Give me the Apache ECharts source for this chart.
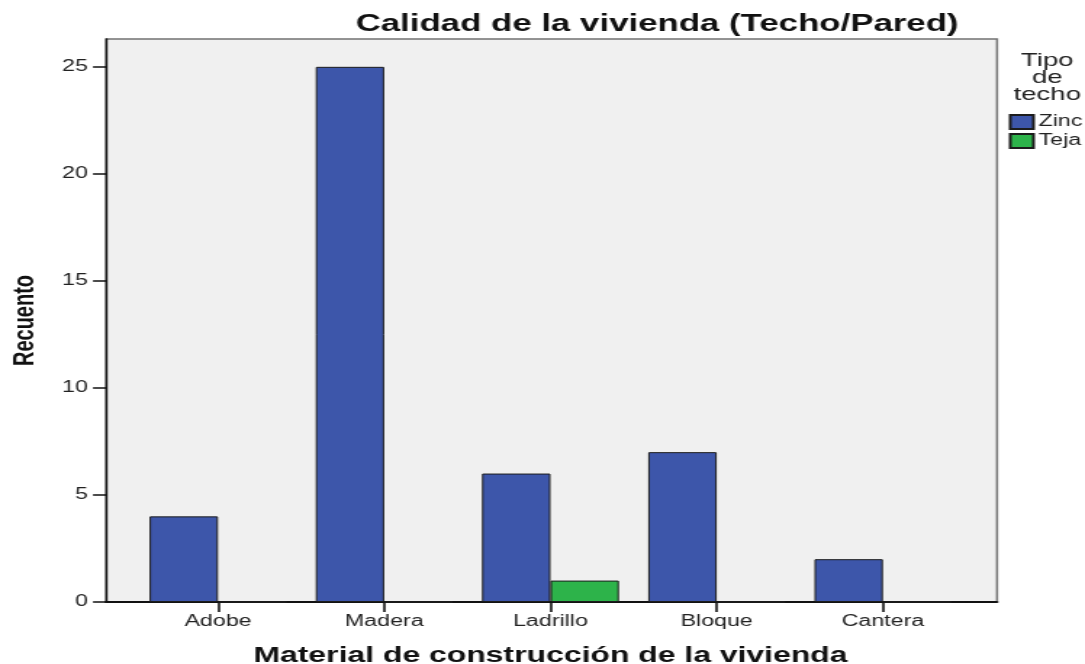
<!DOCTYPE html>
<html>
<head>
<meta charset="utf-8">
<script src="https://cdn.jsdelivr.net/npm/echarts@6/dist/echarts.min.js"></script>
<style>
  html, body { margin: 0; padding: 0; background: #fff; overflow: hidden; }
  /* the reference picture is stretched sideways, so draw narrow and stretch */
  #chart { width: 748px; height: 664px; transform: scaleX(1.4505); transform-origin: 0 0; }
</style>
</head>
<body>
<div id="chart"></div>
<script>
const categories = ['Adobe', 'Madera', 'Ladrillo', 'Bloque', 'Cantera'];
const zinc = [4, 25, 6, 7, 2];
const teja = [0, 0, 1, 0, 0];
const yTicks = [0, 5, 10, 15, 20, 25];
const yMax = 26.3;

const font = 'Liberation Sans, Arial, sans-serif';
const chart = echarts.init(document.getElementById('chart'));

const option = {
  animation: false,
  textStyle: { fontFamily: font },
  title: {
    text: 'Calidad de la vivienda (Techo/Pared)',
    left: 453,
    top: 12,
    textAlign: 'center',
    padding: 0,
    textStyle: { fontSize: 24, fontWeight: 'bold', color: '#111', fontFamily: font }
  },
  graphic: [{
    type: 'text',
    x: 722,
    y: 52,
    style: {
      text: 'Tipo\nde\ntecho',
      align: 'center',
      verticalAlign: 'top',
      fontSize: 19,
      lineHeight: 17,
      fontFamily: font,
      fill: '#222'
    }
  }],
  legend: {
    orient: 'vertical',
    left: 695.5,
    top: 114,
    padding: 0,
    itemGap: 3,
    itemWidth: 16,
    itemHeight: 14,
    icon: 'rect',
    data: ['Zinc', 'Teja'],
    textStyle: { fontSize: 16, color: '#222', padding: [0, 0, 0, -1.5] }
  },
  grid: [
    // frame with grey background
    { left: 73.1, right: 60.6, top: 39, bottom: 62, show: true, outerBoundsMode: 'none',
      backgroundColor: '#f0f0f0', borderColor: '#727272', borderWidth: 1.5 },
    // grid for bars (categories sit inside the frame)
    { left: 93, right: 82, top: 39, bottom: 62, outerBoundsMode: 'none' }
  ],
  xAxis: [
    {
      gridIndex: 0,
      type: 'category',
      data: categories,
      axisLine: { lineStyle: { color: '#111', width: 2 } },
      axisTick: { show: false },
      axisLabel: { show: false }
    },
    {
      gridIndex: 1,
      type: 'category',
      data: categories,
      axisLine: { show: true, lineStyle: { color: '#111', width: 2 } },
      axisTick: { show: true, alignWithLabel: true, length: 10, lineStyle: { color: '#111', width: 1.6 } },
      axisLabel: { fontSize: 16, color: '#222', margin: 12 },
      name: 'Material de construcción de la vivienda',
      nameLocation: 'middle',
      nameGap: 43,
      nameTextStyle: { fontSize: 22, fontWeight: 'bold', color: '#111' }
    }
  ],
  yAxis: [
    {
      gridIndex: 0,
      type: 'value',
      min: 0,
      max: yMax,
      axisLine: { show: true, lineStyle: { color: '#111', width: 1.4 } },
      axisTick: { show: true, customValues: yTicks, length: 9, lineStyle: { color: '#111', width: 1.5 } },
      axisLabel: { customValues: yTicks, fontSize: 16, color: '#222', margin: 12.5 },
      splitLine: { show: false },
      name: 'Recuento',
      nameLocation: 'middle',
      nameGap: 45.5,
      nameTextStyle: { fontSize: 20, fontWeight: 'bold', color: '#111' }
    },
    {
      gridIndex: 1,
      type: 'value',
      min: 0,
      max: yMax,
      show: false,
      splitLine: { show: false }
    }
  ],
  series: [
    {
      name: 'Zinc',
      type: 'bar',
      xAxisIndex: 1,
      yAxisIndex: 1,
      data: zinc,
      barWidth: 47.2,
      barGap: '0%',
      itemStyle: { color: '#3d56aa', borderColor: '#1c1c1c', borderWidth: 1 }
    },
    {
      name: 'Teja',
      type: 'bar',
      xAxisIndex: 1,
      yAxisIndex: 1,
      data: teja,
      barWidth: 47.2,
      barGap: '0%',
      itemStyle: { color: '#2db34a', borderColor: '#1c1c1c', borderWidth: 1 }
    }
  ]
};

chart.setOption(option);
</script>
</body>
</html>
